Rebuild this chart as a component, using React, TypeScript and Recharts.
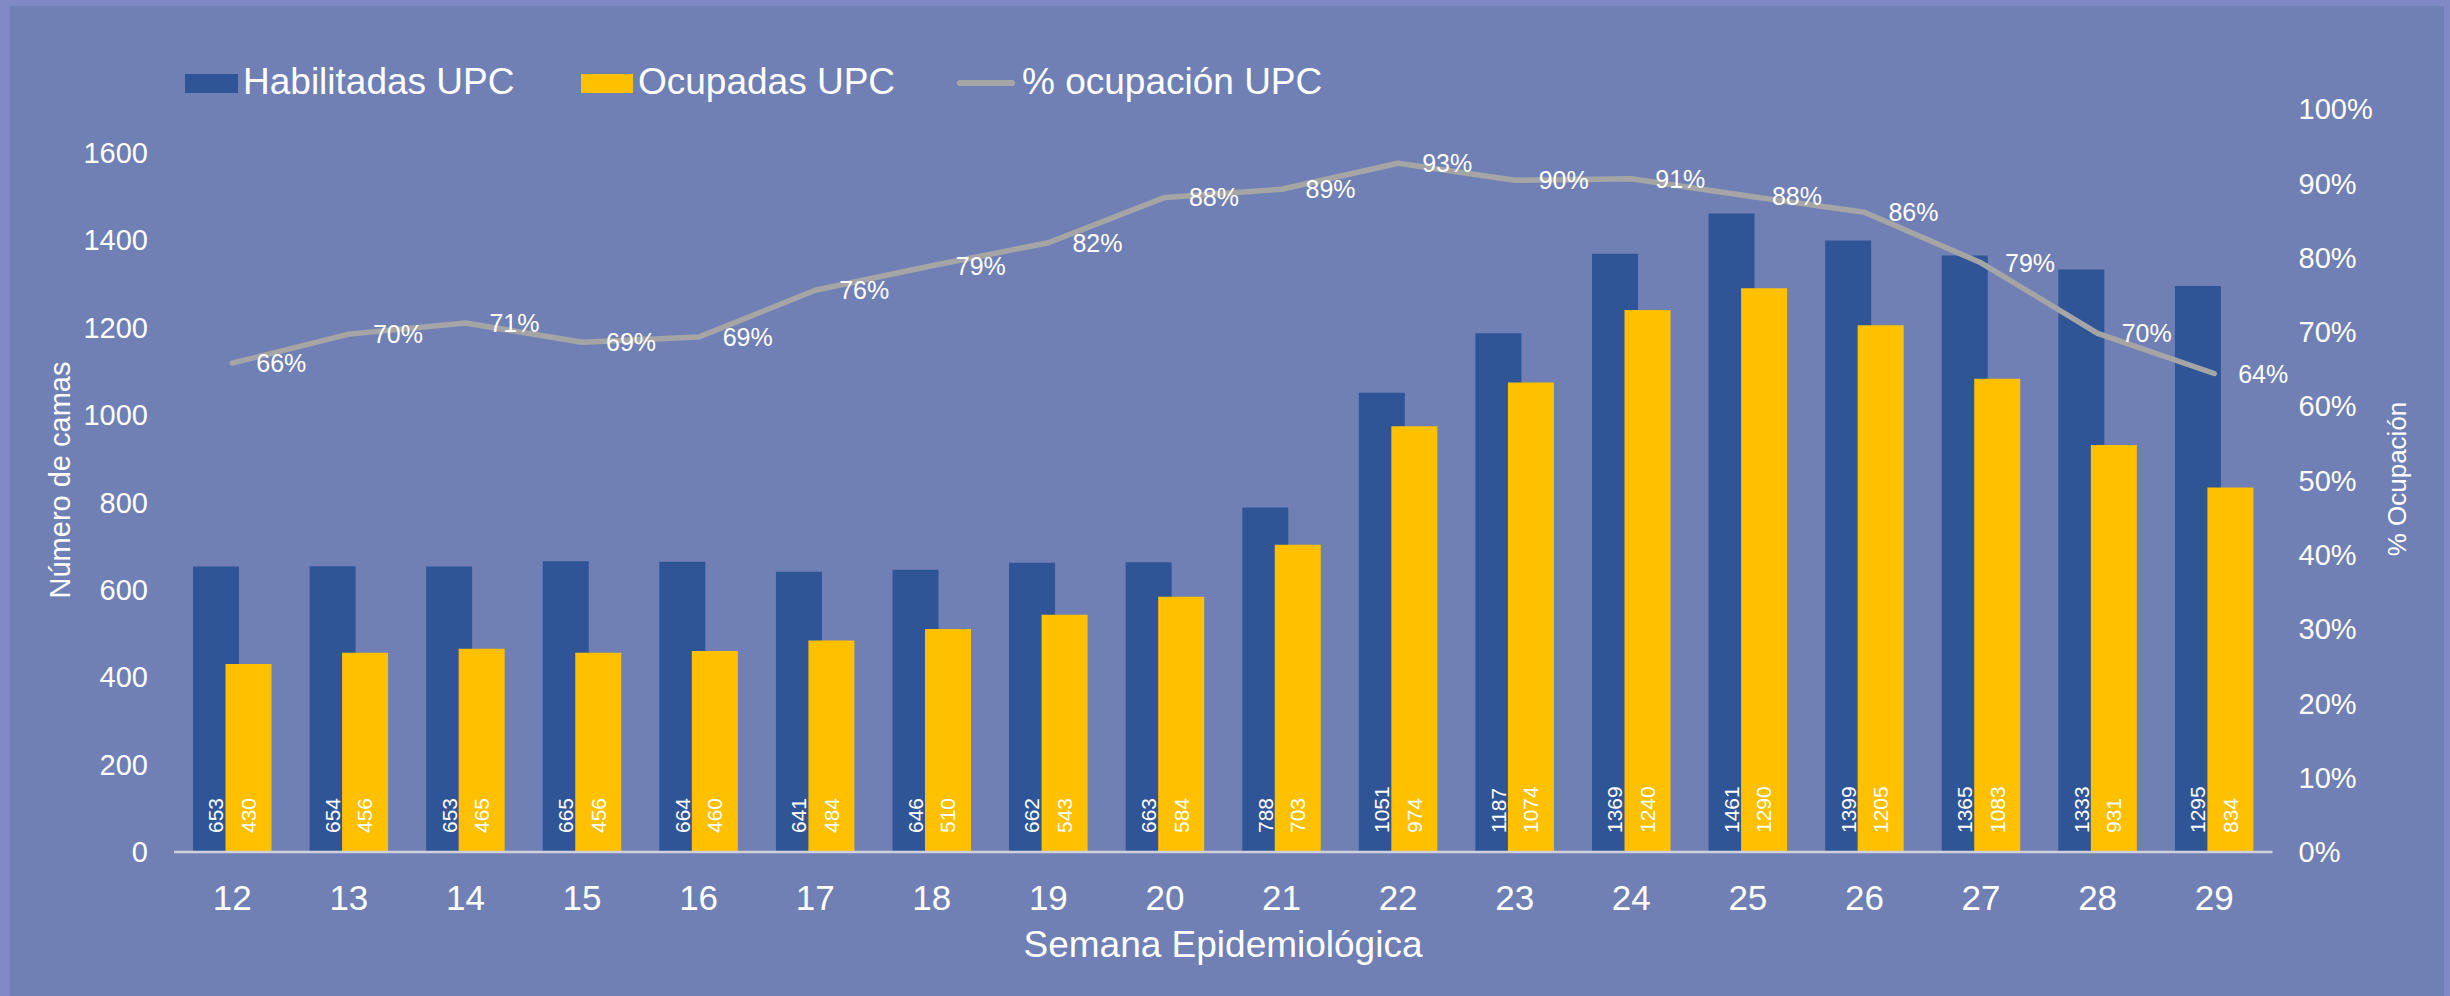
import React from 'react';
import { ComposedChart, Bar, Line, XAxis, YAxis, LabelList, Label } from 'recharts';

const semanas = ['12', '13', '14', '15', '16', '17', '18', '19', '20', '21', '22', '23', '24', '25', '26', '27', '28', '29'];
const habilitadas = [653, 654, 653, 665, 664, 641, 646, 662, 663, 788, 1051, 1187, 1369, 1461, 1399, 1365, 1333, 1295];
const ocupadas = [430, 456, 465, 456, 460, 484, 510, 543, 584, 703, 974, 1074, 1240, 1290, 1205, 1083, 931, 834];
const ocupacion = [0.658, 0.697, 0.712, 0.686, 0.693, 0.756, 0.789, 0.82, 0.881, 0.892, 0.927, 0.904, 0.906, 0.883, 0.861, 0.793, 0.698, 0.644];
const leftTicks = [0, 200, 400, 600, 800, 1000, 1200, 1400, 1600];
const rightTicks = [0, 0.1, 0.2, 0.3, 0.4, 0.5, 0.6, 0.7, 0.8, 0.9, 1];

const data = semanas.map((s, i) => ({
  semana: s,
  habilitadas: habilitadas[i],
  ocupadas: ocupadas[i],
  ocupacion: ocupacion[i],
}));

const FONT = '"Liberation Sans", Arial, sans-serif';
const BLUE = '#2F5597';
const YELLOW = '#FFC000';
const GRAY = '#A5A5A5';

const BarLabel = (props: any) => {
  const { x, y, width, height, value } = props;
  const cx = Number(x) + Number(width) / 2;
  const by = Number(y) + Number(height) - 19;
  return (
    <text
      x={cx}
      y={by}
      dy="0.35em"
      transform={`rotate(-90, ${cx}, ${by})`}
      textAnchor="start"
      fill="#FFFFFF"
      fontSize={21}
      fontFamily={FONT}
    >
      {value}
    </text>
  );
};

const PctLabel = (props: any) => {
  const { x, y, value } = props;
  return (
    <text
      x={Number(x) + 24}
      y={Number(y)}
      dy="0.36em"
      textAnchor="start"
      fill="#FFFFFF"
      fontSize={25}
      fontFamily={FONT}
    >
      {Math.round(Number(value) * 100) + '%'}
    </text>
  );
};

const LeftTitle = (props: any) => {
  const cx = 60;
  const cy = 480;
  return (
    <text
      x={cx}
      y={cy}
      transform={`rotate(-90, ${cx}, ${cy})`}
      textAnchor="middle"
      dy="0.35em"
      fill="#FFFFFF"
      fontSize={29}
      fontFamily={FONT}
    >
      Número de camas
    </text>
  );
};

const RightTitle = (props: any) => {
  const cx = 2397;
  const cy = 479;
  return (
    <text
      x={cx}
      y={cy}
      transform={`rotate(-90, ${cx}, ${cy})`}
      textAnchor="middle"
      dy="0.35em"
      fill="#FFFFFF"
      fontSize={26}
      fontFamily={FONT}
    >
      % Ocupación
    </text>
  );
};

const BottomTitle = (props: any) => {
  return (
    <text x={1223} y={957} textAnchor="middle" fill="#FFFFFF" fontSize={37} fontFamily={FONT}>
      Semana Epidemiológica
    </text>
  );
};

const legendText: React.CSSProperties = {
  position: 'absolute',
  top: 57,
  height: 50,
  lineHeight: '50px',
  fontSize: 37,
  color: '#FFFFFF',
  fontFamily: FONT,
  whiteSpace: 'nowrap',
};

export default function App() {
  return (
    <div
      style={{
        position: 'fixed',
        left: 0,
        top: 0,
        width: 2450,
        height: 996,
        background: '#8189C5',
        fontFamily: FONT,
        overflow: 'hidden',
      }}
    >
      <div
        style={{
          position: 'absolute',
          left: 10,
          top: 6,
          width: 2434,
          height: 990,
          background: '#7080B4',
        }}
      />
      <div style={{ position: 'absolute', left: 0, top: 0 }}>
        <ComposedChart
          width={2450}
          height={996}
          data={data}
          margin={{ top: 109, right: 0, bottom: 0, left: 0 }}
          barSize={46}
          barGap={-13.5}
        >
          <XAxis
            dataKey="semana"
            height={144}
            tickLine={false}
            tickSize={0}
            tickMargin={33}
            axisLine={{ stroke: '#D0D0DC', strokeWidth: 2.5 }}
            tick={{ fill: '#FFFFFF', fontSize: 35, fontFamily: FONT }}
            interval={0}
          >
            <Label content={BottomTitle} />
          </XAxis>
          <YAxis
            yAxisId="left"
            orientation="left"
            width={174}
            domain={[0, 1700]}
            ticks={leftTicks}
            axisLine={false}
            tickLine={false}
            tickSize={0}
            tickMargin={26}
            tick={{ fill: '#FFFFFF', fontSize: 29, fontFamily: FONT }}
          >
            <Label content={LeftTitle} />
          </YAxis>
          <YAxis
            yAxisId="right"
            orientation="right"
            width={177.5}
            domain={[0, 1]}
            ticks={rightTicks}
            axisLine={false}
            tickLine={false}
            tickSize={0}
            tickMargin={26}
            tickFormatter={(v: number) => Math.round(v * 100) + '%'}
            tick={{ fill: '#FFFFFF', fontSize: 29, fontFamily: FONT }}
          >
            <Label content={RightTitle} />
          </YAxis>
          <Bar yAxisId="left" dataKey="habilitadas" fill={BLUE} isAnimationActive={false}>
            <LabelList dataKey="habilitadas" content={BarLabel} />
          </Bar>
          <Bar yAxisId="left" dataKey="ocupadas" fill={YELLOW} isAnimationActive={false}>
            <LabelList dataKey="ocupadas" content={BarLabel} />
          </Bar>
          <Line
            yAxisId="right"
            type="linear"
            dataKey="ocupacion"
            stroke={GRAY}
            strokeWidth={5.5}
            strokeLinecap="round"
            strokeLinejoin="round"
            dot={false}
            activeDot={false}
            isAnimationActive={false}
          >
            <LabelList dataKey="ocupacion" content={PctLabel} />
          </Line>
        </ComposedChart>
      </div>
      <div style={{ position: 'absolute', left: 185, top: 74, width: 53, height: 19, background: BLUE }} />
      <div style={{ ...legendText, left: 243 }}>Habilitadas UPC</div>
      <div style={{ position: 'absolute', left: 581, top: 74, width: 52, height: 19, background: YELLOW }} />
      <div style={{ ...legendText, left: 638 }}>Ocupadas UPC</div>
      <div
        style={{
          position: 'absolute',
          left: 957,
          top: 80.25,
          width: 58,
          height: 5.5,
          borderRadius: 3,
          background: GRAY,
        }}
      />
      <div style={{ ...legendText, left: 1022 }}>% ocupación UPC</div>
    </div>
  );
}
